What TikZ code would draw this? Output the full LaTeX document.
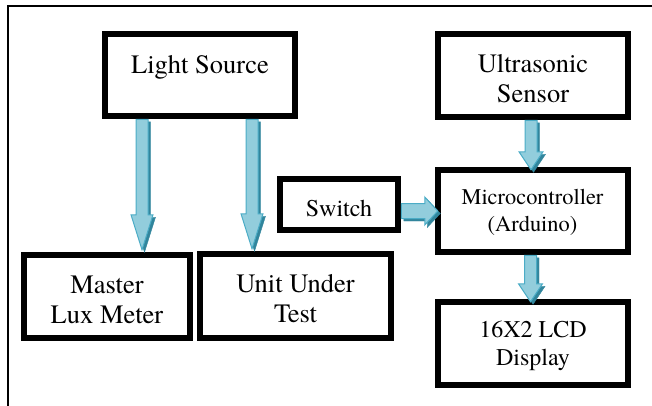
\documentclass[tikz,border=0pt]{standalone}
\usepackage{fontspec}
\setmainfont{texgyretermes-regular.otf}
\newfontfamily\tnr{texgyretermes-regular.otf}
\usetikzlibrary{calc}
\definecolor{arrfill}{HTML}{92CDDC}
\definecolor{arrline}{HTML}{4BACC6}
\definecolor{arrshadow}{HTML}{31859C}
\newcommand{\twolines}[2]{\begin{tabular}[t]{@{}c@{}}#1\\#2\end{tabular}}
\tikzset{
  box/.style 2 args={draw=black, line width=6.5pt, minimum width=#1, minimum height=#2, inner sep=0pt},
  lblbig/.style={anchor=base, inner sep=0pt, font=\tnr\fontsize{26.5}{30}\selectfont},
  lblmid/.style={anchor=base, inner sep=0pt, font=\tnr\fontsize{24}{27.7}\selectfont},
  lblsmall/.style={anchor=base, inner sep=0pt, font=\tnr\fontsize{22.4}{27.7}\selectfont},
  frameline/.style={draw=black, line width=2pt},
  blockarrow/.style n args={3}{
    fill=arrfill, draw=arrline, line width=1pt, line join=miter,
    preaction={fill=arrshadow, draw=arrshadow, transform canvas={shift={(2.5pt,-2.5pt)}}},
    to path={
      ($(\tikztostart)!#1!90:(\tikztotarget)$) --
      ($($(\tikztotarget)!#3!(\tikztostart)$)!#1!90:(\tikztotarget)$) --
      ($($(\tikztotarget)!#3!(\tikztostart)$)!#2!90:(\tikztotarget)$) --
      (\tikztotarget) --
      ($($(\tikztotarget)!#3!(\tikztostart)$)!#2!-90:(\tikztotarget)$) --
      ($($(\tikztotarget)!#3!(\tikztostart)$)!#1!-90:(\tikztotarget)$) --
      ($(\tikztostart)!#1!-90:(\tikztotarget)$) -- cycle
    }
  }
}
\begin{document}
\begin{tikzpicture}[x=1pt, y=-1pt]
\useasboundingbox (0,0) rectangle (652,405);
% frame
\draw[frameline] (8,406) -- (8,6) -- (653,6);
% boxes
\node[box={190pt}{82pt}] (ls)  at (200,75) {};
\node[box={190pt}{83pt}] (us)  at (533,75.5) {};
\node[box={190pt}{82pt}] (mc)  at (533,211) {};
\node[box={190pt}{83pt}] (lcd) at (533,343.5) {};
\node[box={118pt}{51pt}] (sw)  at (339,204.5) {};
\node[box={166pt}{83pt}] (mlm) at (107,296.5) {};
\node[box={191pt}{84pt}] (uut) at (295.5,296) {};
% labels
\node[lblbig]   (lst)  at (200,73)    {Light Source};
\node[lblbig]   (ust)  at (533,72)    {\twolines{Ultrasonic}{Sensor}};
\node[lblsmall] (mct)  at (532.5,204) {\twolines{Microcontroller}{(Arduino)}};
\node[lblmid]   (swt)  at (339,216.7) {Switch};
\node[lblbig]   (mlmt) at (107,293.3) {\twolines{Master}{Lux Meter}};
\node[lblbig]   (uutt) at (295.5,292) {\twolines{Unit Under}{Test}};
\node[lblmid]   (lcdt) at (533,337.3) {\twolines{16X2 LCD}{Display}};
% arrows
\draw[blockarrow={6pt}{11pt}{35pt}] ([xshift=-58pt]ls.south) to ([xshift=35pt,yshift=2pt]mlm.north);
\draw[blockarrow={6pt}{11pt}{35pt}] ([xshift=52pt]ls.south) to ([xshift=-43.5pt,yshift=2pt]uut.north);
\draw[blockarrow={6pt}{12pt}{18pt}] ([xshift=-2pt]us.south) to ([xshift=-2pt,yshift=-3pt]mc.north);
\draw[blockarrow={6pt}{12pt}{18pt}] ([xshift=-2.5pt]mc.south) to ([xshift=-2.5pt,yshift=-3pt]lcd.north);
\draw[blockarrow={7.5pt}{14pt}{13pt}] (sw.east |- mc.west) to ([xshift=3pt]mc.west);
\end{tikzpicture}
\end{document}
